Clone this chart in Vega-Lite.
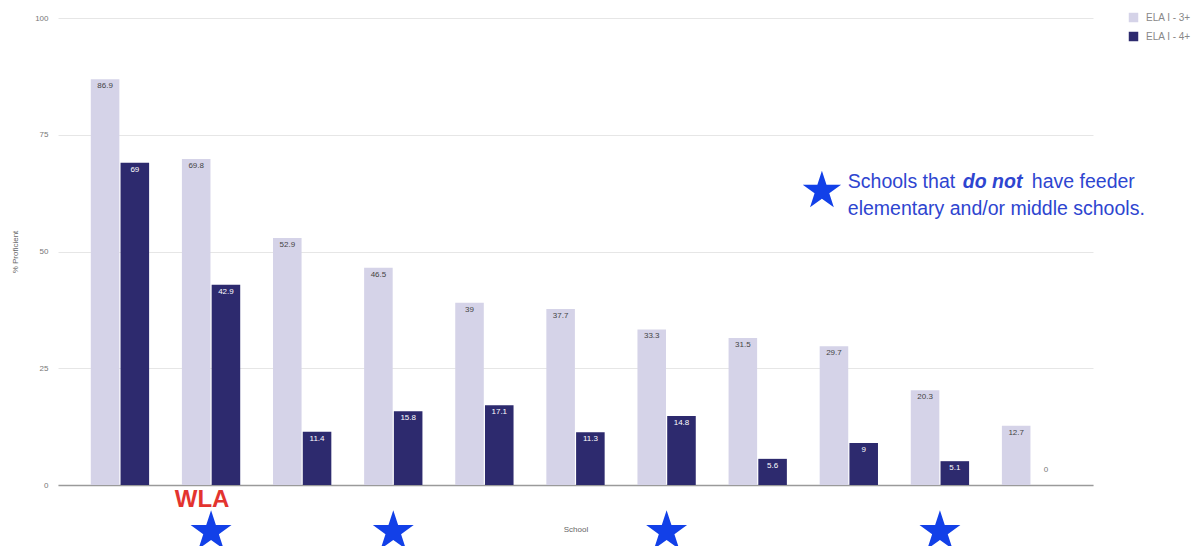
{
  "$schema": "https://vega.github.io/schema/vega-lite/v6.json",
  "width": 1035,
  "height": 467,
  "autosize": {"type": "none"},
  "padding": {"left": 58, "top": 18, "right": 110, "bottom": 61},
  "background": "white",
  "config": {
    "font": "Liberation Sans",
    "view": {"stroke": null}
  },
  "data": {"values": [
      {"school": "School 1", "series": "ELA I - 3+", "value": 86.9, "star": false},
      {"school": "School 1", "series": "ELA I - 4+", "value": 69, "star": false},
      {"school": "WLA", "series": "ELA I - 3+", "value": 69.8, "star": true},
      {"school": "WLA", "series": "ELA I - 4+", "value": 42.9, "star": true},
      {"school": "School 3", "series": "ELA I - 3+", "value": 52.9, "star": false},
      {"school": "School 3", "series": "ELA I - 4+", "value": 11.4, "star": false},
      {"school": "School 4", "series": "ELA I - 3+", "value": 46.5, "star": true},
      {"school": "School 4", "series": "ELA I - 4+", "value": 15.8, "star": true},
      {"school": "School 5", "series": "ELA I - 3+", "value": 39, "star": false},
      {"school": "School 5", "series": "ELA I - 4+", "value": 17.1, "star": false},
      {"school": "School 6", "series": "ELA I - 3+", "value": 37.7, "star": false},
      {"school": "School 6", "series": "ELA I - 4+", "value": 11.3, "star": false},
      {"school": "School 7", "series": "ELA I - 3+", "value": 33.3, "star": true},
      {"school": "School 7", "series": "ELA I - 4+", "value": 14.8, "star": true},
      {"school": "School 8", "series": "ELA I - 3+", "value": 31.5, "star": false},
      {"school": "School 8", "series": "ELA I - 4+", "value": 5.6, "star": false},
      {"school": "School 9", "series": "ELA I - 3+", "value": 29.7, "star": false},
      {"school": "School 9", "series": "ELA I - 4+", "value": 9, "star": false},
      {"school": "School 10", "series": "ELA I - 3+", "value": 20.3, "star": true},
      {"school": "School 10", "series": "ELA I - 4+", "value": 5.1, "star": true},
      {"school": "School 11", "series": "ELA I - 3+", "value": 12.7, "star": false},
      {"school": "School 11", "series": "ELA I - 4+", "value": 0, "star": false}
  ]},
  "layer": [
    {
      "mark": {"type": "bar"},
      "encoding": {
        "x": {
          "field": "school", "type": "nominal", "sort": null,
          "scale": {"paddingInner": 0.36, "paddingOuter": 0.36},
          "axis": {"orient": "bottom", "labels": false, "ticks": false, "domain": true, "domainColor": "#9a9a9a", "domainWidth": 1.5, "title": "School", "titleFontSize": 8, "titleFontWeight": "normal", "titleColor": "#666", "titlePadding": 40}
        },
        "xOffset": {"field": "series", "type": "nominal", "scale": {"paddingInner": 0.04}},
        "y": {
          "field": "value", "type": "quantitative",
          "scale": {"domain": [0, 100], "nice": false},
          "axis": {"values": [0, 25, 50, 75, 100], "title": "% Proficient", "titleFontSize": 8, "titleFontWeight": "normal", "titleColor": "#666", "titlePadding": 15, "labelFontSize": 8, "labelColor": "#777", "ticks": false, "domain": false, "gridColor": "#e6e6e6", "labelPadding": 10}
        },
        "color": {
          "field": "series", "type": "nominal",
          "scale": {"domain": ["ELA I - 3+", "ELA I - 4+"], "range": ["#d5d3e8", "#2d2a6e"]},
          "legend": {"title": null, "orient": "none", "legendX": 1070, "legendY": -6, "symbolType": "square", "symbolSize": 90, "labelFontSize": 10, "labelColor": "#888", "rowPadding": 8, "labelOffset": 7}
        }
      }
    },
    {
      "transform": [{"filter": "datum.value > 0"}],
      "mark": {"type": "text", "baseline": "top", "dy": 3, "fontSize": 8},
      "encoding": {
        "x": {"field": "school", "type": "nominal", "sort": null},
        "xOffset": {"field": "series", "type": "nominal"},
        "y": {"field": "value", "type": "quantitative"},
        "text": {"field": "value", "type": "quantitative"},
        "color": {"condition": {"test": "datum.series == 'ELA I - 4+'", "value": "white"}, "value": "#444"}
      }
    },
    {
      "transform": [{"filter": "datum.value == 0"}],
      "mark": {"type": "text", "baseline": "bottom", "dy": -11, "fontSize": 8, "color": "#777"},
      "encoding": {
        "x": {"field": "school", "type": "nominal", "sort": null},
        "xOffset": {"field": "series", "type": "nominal"},
        "y": {"field": "value", "type": "quantitative"},
        "text": {"field": "value", "type": "quantitative"}
      }
    },
    {
      "transform": [{"filter": "datum.star && datum.series == 'ELA I - 3+'"}],
      "mark": {"type": "point", "shape": "M0,-1L0.2245,-0.309L0.951,-0.309L0.363,0.118L0.588,0.809L0,0.382L-0.588,0.809L-0.363,0.118L-0.951,-0.309L-0.2245,-0.309Z", "filled": true, "size": 1850, "color": "#1240e8", "opacity": 1, "strokeWidth": 0},
      "encoding": {
        "x": {"field": "school", "type": "nominal", "sort": null},
        "y": {"datum": -10}
      }
    },
    {
      "transform": [{"filter": "datum.school == 'WLA' && datum.series == 'ELA I - 3+'"}],
      "mark": {"type": "text", "fontSize": 24, "fontWeight": "bold", "color": "#e3342f", "baseline": "alphabetic", "align": "center", "dx": -9, "text": "WLA"},
      "encoding": {
        "x": {"field": "school", "type": "nominal", "sort": null},
        "y": {"datum": -4.7}
      }
    },
    {
      "transform": [{"filter": "datum.school == 'School 9' && datum.series == 'ELA I - 3+'"}],
      "mark": {"type": "text", "font": "DejaVu Sans", "fontSize": 50, "color": "#1240e8", "align": "center", "baseline": "middle", "dx": -27, "dy": 2, "text": "★"},
      "encoding": {
        "x": {"field": "school", "type": "nominal", "sort": null},
        "y": {"datum": 63.2}
      }
    },
    {
      "transform": [{"filter": "datum.school == 'School 9' && datum.series == 'ELA I - 3+'"}],
      "mark": {"type": "text", "fontSize": 19.5, "color": "#2e45d0", "align": "left", "baseline": "alphabetic", "dx": -1, "dy": -2, "text": "Schools that"},
      "encoding": {
        "x": {"field": "school", "type": "nominal", "sort": null},
        "y": {"datum": 63.2}
      }
    },
    {
      "transform": [{"filter": "datum.school == 'School 9' && datum.series == 'ELA I - 3+'"}],
      "mark": {"type": "text", "fontSize": 19.5, "color": "#2e45d0", "align": "left", "baseline": "alphabetic", "fontWeight": "bold", "fontStyle": "italic", "dx": 114, "dy": -2, "text": "do not"},
      "encoding": {
        "x": {"field": "school", "type": "nominal", "sort": null},
        "y": {"datum": 63.2}
      }
    },
    {
      "transform": [{"filter": "datum.school == 'School 9' && datum.series == 'ELA I - 3+'"}],
      "mark": {"type": "text", "fontSize": 19.5, "color": "#2e45d0", "align": "left", "baseline": "alphabetic", "dx": 183, "dy": -2, "text": "have feeder"},
      "encoding": {
        "x": {"field": "school", "type": "nominal", "sort": null},
        "y": {"datum": 63.2}
      }
    },
    {
      "transform": [{"filter": "datum.school == 'School 9' && datum.series == 'ELA I - 3+'"}],
      "mark": {"type": "text", "fontSize": 19.5, "color": "#2e45d0", "align": "left", "baseline": "alphabetic", "dx": -1, "dy": 1, "text": "elementary and/or middle schools."},
      "encoding": {
        "x": {"field": "school", "type": "nominal", "sort": null},
        "y": {"datum": 58.0}
      }
    }
  ]
}
